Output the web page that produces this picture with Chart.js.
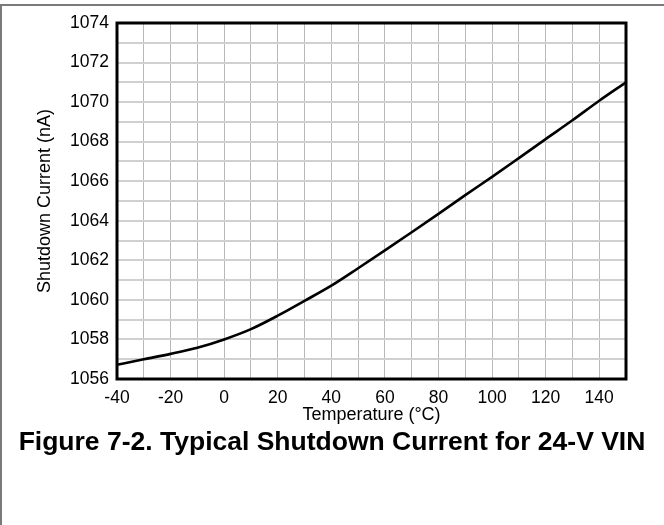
<!DOCTYPE html>
<html>
<head>
<meta charset="utf-8">
<script src="https://cdn.jsdelivr.net/npm/chart.js@4.4.1/dist/chart.umd.min.js"></script>
<style>
  html, body { margin: 0; padding: 0; background: #ffffff; overflow: hidden; }
  #wrap { position: relative; width: 664px; height: 525px; }
  #frame { position: absolute; left: 0; top: 4px; width: 720px; height: 600px;
           border-left: 2px solid #7a7a7a; border-top: 2px solid #7a7a7a; box-sizing: border-box; }
  #c { position: absolute; left: 0; top: 0; }
  #caption { position: absolute; left: 0; width: 664px; top: 426px; text-align: center;
             font-family: "Liberation Sans", Arial, sans-serif; font-weight: bold; font-size: 26.5px;
             color: #000; white-space: nowrap; }
</style>
</head>
<body>
<div id="wrap">
  <div id="frame"></div>
  <canvas id="c" width="664" height="525"></canvas>
  <div id="caption">Figure 7-2. Typical Shutdown Current for 24-V VIN</div>
</div>
<script>
const temperatures = [-40, -30, -20, -10, 0, 10, 20, 30, 40, 50, 60, 70, 80, 90, 100, 110, 120, 130, 140, 150];
const shutdownCurrent = [1056.72, 1057.0, 1057.27, 1057.58, 1058.0, 1058.52, 1059.2, 1059.95, 1060.72, 1061.6,
                         1062.5, 1063.42, 1064.35, 1065.3, 1066.22, 1067.17, 1068.13, 1069.08, 1070.07, 1071.0];
const xTitle = "Temperature (°C)";
const yTitle = "Shutdown Current (nA)";
const xMin = -40, xMax = 150, xStep = 10, xLabelEvery = 20;
const yMin = 1056, yMax = 1074, yStep = 1, yLabelEvery = 2;

const points = temperatures.map((t, i) => ({ x: t, y: shutdownCurrent[i] }));

const frameBorder = {
  id: 'frameBorder',
  afterDatasetsDraw(chart) {
    const { ctx, chartArea: a } = chart;
    ctx.save();
    ctx.strokeStyle = '#000';
    ctx.lineWidth = 3;
    ctx.strokeRect(a.left, a.top, a.right - a.left, a.bottom - a.top);
    ctx.restore();
  }
};

const FONT = "'Liberation Sans', Arial, sans-serif";

new Chart(document.getElementById('c'), {
  type: 'line',
  data: {
    datasets: [{
      data: points,
      borderColor: '#000',
      borderWidth: 2.6,
      pointRadius: 0,
      fill: false,
      cubicInterpolationMode: 'monotone'
    }]
  },
  options: {
    responsive: false,
    animation: false,
    events: [],
    layout: { padding: { left: 0, top: 23, right: 38, bottom: 99 } },
    plugins: { legend: { display: false }, tooltip: { enabled: false }, title: { display: false } },
    scales: {
      x: {
        type: 'linear', min: xMin, max: xMax,
        afterFit(s) { s.height = 47; },
        grid: { color: '#b8b8b8', lineWidth: 1, drawTicks: false },
        border: { display: false },
        ticks: {
          stepSize: xStep, autoSkip: false, maxRotation: 0, padding: 9,
          color: '#000', font: { family: FONT, size: 17.5 },
          callback: v => (v % xLabelEvery === 0 ? String(v) : '')
        },
        title: { display: true, text: xTitle, color: '#000', font: { family: FONT, size: 18 }, padding: { top: 0, bottom: 0 } }
      },
      y: {
        type: 'linear', min: yMin, max: yMax,
        afterFit(s) { s.width = 117; },
        grid: { color: '#d0d0d0', lineWidth: 2, drawTicks: false },
        border: { display: false },
        ticks: {
          stepSize: yStep, autoSkip: false, padding: 8,
          color: '#000', font: { family: FONT, size: 17.5 },
          callback: v => (v % yLabelEvery === 0 ? String(v) : '')
        },
        title: { display: true, text: yTitle, color: '#000', font: { family: FONT, size: 18 }, padding: { top: 34, bottom: 0 } }
      }
    }
  },
  plugins: [frameBorder]
});
</script>
</body>
</html>
